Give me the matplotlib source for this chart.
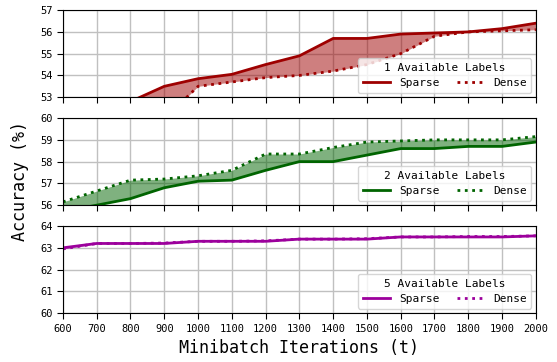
import matplotlib.pyplot as plt

# Data
iters = [600, 700, 800, 900, 1000, 1100, 1200, 1300, 1400, 1500, 1600, 1700, 1800, 1900, 2000]

sparse_1 = [52.4, 52.6, 52.8, 53.5, 53.85, 54.05, 54.5, 54.9, 55.7, 55.7, 55.9, 55.95, 56.0, 56.15, 56.4]
dense_1 = [51.6, 51.8, 51.9, 52.0, 53.5, 53.7, 53.9, 54.0, 54.2, 54.5, 55.0, 55.8, 56.0, 56.05, 56.1]

sparse_2 = [55.7, 56.0, 56.3, 56.8, 57.1, 57.15, 57.6, 58.0, 58.0, 58.3, 58.6, 58.6, 58.7, 58.7, 58.9]
dense_2 = [56.15, 56.65, 57.15, 57.2, 57.35, 57.6, 58.35, 58.35, 58.65, 58.9, 58.95, 59.0, 59.0, 59.0, 59.15]

sparse_5 = [63.0, 63.2, 63.2, 63.2, 63.3, 63.3, 63.3, 63.4, 63.4, 63.4, 63.5, 63.5, 63.5, 63.5, 63.55]
dense_5 = [62.95, 63.2, 63.2, 63.22, 63.3, 63.3, 63.32, 63.4, 63.4, 63.42, 63.5, 63.5, 63.52, 63.52, 63.55]

panels = [
    ('1 Available Labels', sparse_1, dense_1, '#9e0000', (53, 57)),
    ('2 Available Labels', sparse_2, dense_2, '#006400', (56, 60)),
    ('5 Available Labels', sparse_5, dense_5, '#9c009c', (60, 64)),
]

plt.rcParams['font.family'] = 'DejaVu Sans Mono'

fig, axes = plt.subplots(3, 1, figsize=(5.57, 3.62), dpi=100, sharex=True)

for ax, (title, sp, de, col, ylim) in zip(axes, panels):
    ax.fill_between(iters, sp, de, color=col, alpha=0.5, linewidth=0)
    ax.plot(iters, sp, color=col, linewidth=2, label='Sparse')
    ax.plot(iters, de, color=col, linewidth=2, linestyle=':', label='Dense')
    ax.set_ylim(*ylim)
    ax.set_yticks(range(ylim[0], ylim[1] + 1))
    ax.set_xlim(600, 2000)
    ax.set_xticks(iters)
    ax.grid(True, color='#c0c0c0', linewidth=1)
    ax.set_axisbelow(True)
    ax.tick_params(labelsize=7.5, length=4)
    ax.legend(title=title, ncol=2, loc='lower right', fontsize=8,
              title_fontsize=8, framealpha=0.8, columnspacing=1.5,
              handlelength=2.5, borderaxespad=0.4)

axes[2].set_xlabel('Minibatch Iterations (t)', fontsize=12)
fig.supylabel('Accuracy (%)', fontsize=12, x=0.02)

plt.subplots_adjust(left=0.113, right=0.962, top=0.972, bottom=0.135, hspace=0.24)
plt.savefig('out.png')
